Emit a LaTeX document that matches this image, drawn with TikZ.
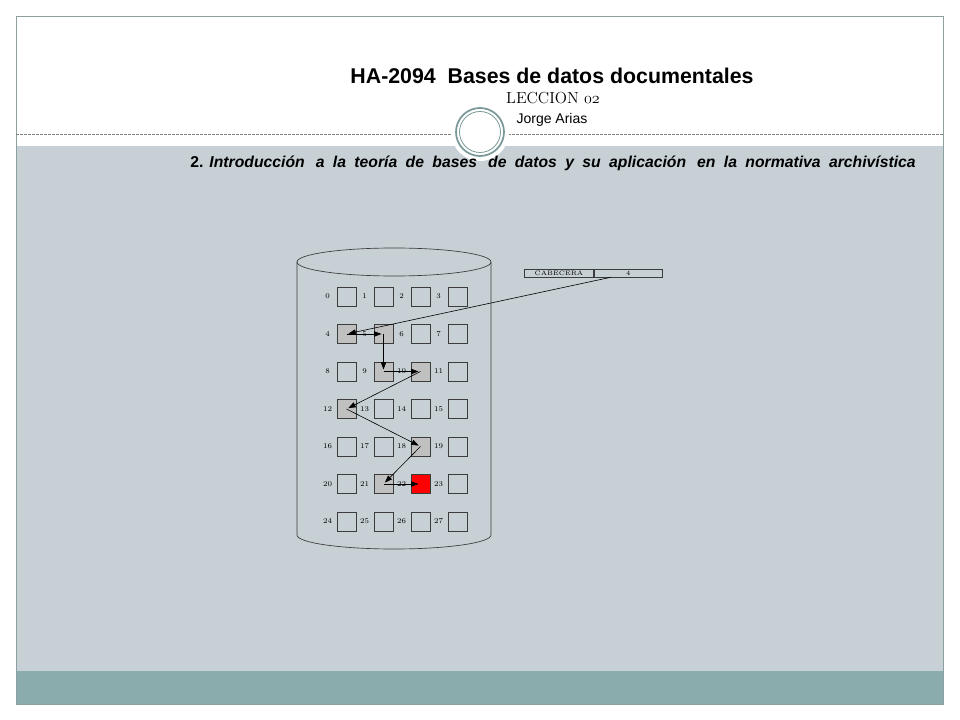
\documentclass[tikz,border=0pt]{standalone}
\usepackage{fontspec}
\newfontfamily\arial{Liberation Sans}
\usetikzlibrary{
    arrows.meta,
    calc,
    positioning
}
\definecolor{slidegray}{RGB}{198,208,213}
\definecolor{bandteal}{RGB}{138,172,172}
\definecolor{framegray}{RGB}{140,160,160}
\definecolor{ringteal}{RGB}{122,152,152}
\definecolor{cellgray}{RGB}{192,192,192}
\definecolor{cellline}{RGB}{60,60,60}

\begin{document}
\begin{tikzpicture}[x=0.75pt, y=-0.75pt,
    cell/.style={draw=cellline, minimum size=14.25pt, inner sep=0pt},
    used/.style={fill=cellgray},
    hl4/.style={used}, hl5/.style={used}, hl9/.style={used}, hl10/.style={used},
    hl12/.style={used}, hl18/.style={used}, hl21/.style={used},
    hl22/.style={fill=red},
    lbl/.style={font=\fontsize{5.5}{6}\selectfont, inner sep=0pt},
    cabbox/.style={draw=cellline, minimum width=51.5pt, minimum height=6pt,
                   inner sep=0pt, font=\fontsize{4.8}{5}\selectfont},
    link/.style={-{Triangle[length=5.5pt,width=4pt]}, line width=0.45pt, shorten >=1.5pt}
]
    % slide background
    \fill[white] (0,0) rectangle (960,720);
    \useasboundingbox (0,0) rectangle (960,720);
    \fill[slidegray] (16,146) rectangle (943,671);
    \fill[bandteal] (16,671) rectangle (943,704);
    \draw[framegray] (16,16) rectangle (943,704);
    \draw[gray, dash pattern=on 2pt off 1pt] (16,134) -- (943,134);
    \fill[white] (480,132) circle [radius=29];
    \draw[ringteal, line width=1.3pt] (480,132) circle [radius=24];
    \draw[ringteal, line width=0.6pt] (480,132) circle [radius=20.5];

    % headings
    \node[font=\arial\bfseries\fontsize{16}{18}\selectfont] (title) at (552,76)
        {HA-2094\ \ Bases de datos documentales};
    \node[font=\fontsize{12}{14}\selectfont] (lesson) at (553,98)
        {LECCION {\usefont{OML}{cmm}{m}{it}02}};
    \node[font=\arial\fontsize{10.5}{12}\selectfont] (author) at (552,120) {Jorge Arias};
    \node[font=\arial\bfseries\fontsize{11.8}{13}\selectfont] (topic) at (553,163)
        {\makebox[544pt][s]{2.\hspace{4.5pt}\textit{Introducción\hspace{2pt} a la teoría de bases\hspace{2pt} de datos y su aplicación\hspace{2pt} en la normativa archivística}}};

    % cylinder
    \draw[cellline, line width=0.5pt] (394,262) ellipse [x radius=97, y radius=14];
    \draw[cellline, line width=0.5pt] (297,262) -- (297,535)
        arc [start angle=180, end angle=0, x radius=97, y radius=14] -- (491,262);

    % cells
    \foreach \r in {0,...,6}
        \foreach \c in {0,...,3} {
            \pgfmathtruncatemacro\n{4*\r+\c}
            \node[cell, hl\n/.try] (c\n) at (346.5+37*\c, 296.5+37.5*\r) {};
            \node[lbl] (n\n) at (327.5+37*\c, 296.5+37.5*\r) {\n};
        }

    % header record
    \node[cabbox] (cabhdr) at (559,273) {CABECERA};
    \node[cabbox, right=0pt of cabhdr] (cabval) {4};

    % links
    \draw[link] ($(cabval.south west)!0.25!(cabval.south east)$) -- (c4.center);
    \foreach \a/\b in {4/5, 5/9, 9/10, 10/12, 12/18, 18/21, 21/22}
        \draw[link] (c\a.center) -- (c\b.center);
\end{tikzpicture}
\end{document}
